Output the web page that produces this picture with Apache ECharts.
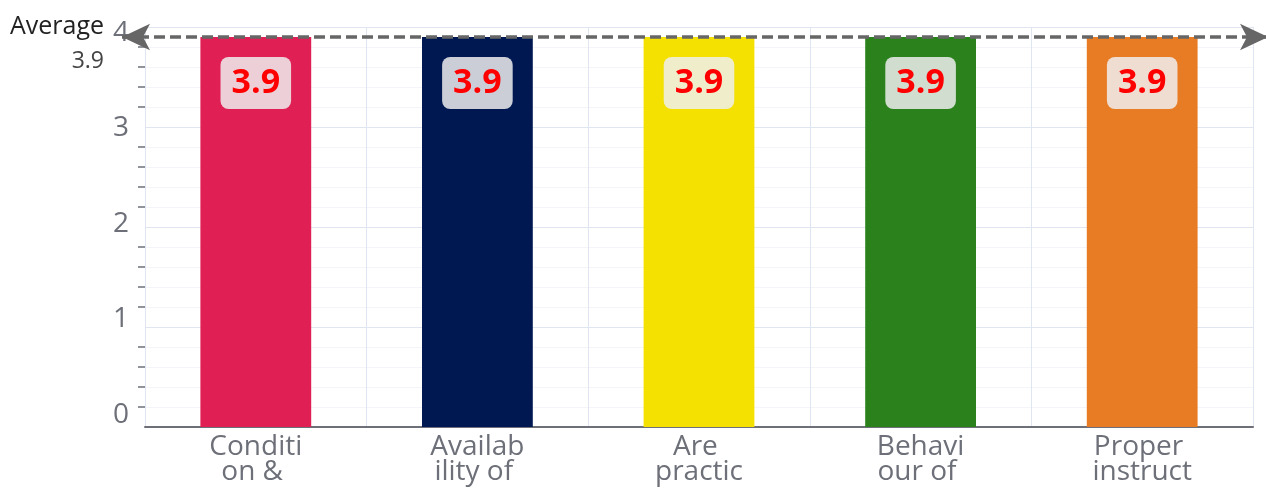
<!DOCTYPE html>
<html>
<head>
<meta charset="utf-8">
<script src="https://cdn.jsdelivr.net/npm/echarts@6/dist/echarts.min.js"></script>
<style>
  html, body { margin: 0; padding: 0; background: #fff; }
  #main { width: 1266px; height: 494px; }
</style>
</head>
<body>
<div id="main"></div>
<script>
// categories (long names wrap under the axis)
var categories = [
  'Condition & cleanliness of laboratory',
  'Availability of equipment',
  'Are practicals conducted regularly',
  'Behaviour of lab staff',
  'Proper instructions given'
];
var scores = [3.9, 3.9, 3.9, 3.9, 3.9];
var barColors = ['#E01F54', '#001852', '#F4E001', '#2B821D', '#E87C25'];
var yMin = 0, yMax = 4, yStep = 1;

// average of all scores, drawn as the dashed arrow line
var avgScore = scores.reduce(function (a, b) { return a + b; }, 0) / scores.length;

var myChart = echarts.init(document.getElementById('main'));

var fontFam = '"Open Sans", "Noto Sans", sans-serif';

myChart.setOption({
  textStyle: { fontFamily: fontFam },
  grid: [
    { left: 145, right: 13, top: 27, bottom: 67, outerBoundsMode: 'none', containLabel: false },
    // only carries the y tick labels
    { left: 145, right: 13, top: 33, bottom: 79, outerBoundsMode: 'none', containLabel: false }
  ],
  xAxis: [
    {
      type: 'category',
      data: categories,
      axisLine: { lineStyle: { color: '#6E7079', width: 2 } },
      axisTick: { alignWithLabel: true, length: 7, lineStyle: { color: '#6E7079', width: 1.5 } },
      splitLine: { show: true, lineStyle: { color: '#E0E6F1' } },
      axisLabel: {
        interval: 0,
        color: '#6E7079',
        fontSize: 28,
        lineHeight: 25,
        width: 100,
        height: 50,
        overflow: 'break',
        lineOverflow: 'truncate',
        margin: 8
      }
    },
    { gridIndex: 1, type: 'category', data: categories, show: false }
  ],
  yAxis: [
    {
      type: 'value',
      min: yMin,
      max: yMax,
      interval: yStep,
      axisLine: { show: false },
      axisTick: { show: false },
      axisLabel: { show: false },
      minorTick: { show: true, splitNumber: 5, length: 7, lineStyle: { color: '#6E7079', width: 1.5 } },
      splitLine: { lineStyle: { color: '#E0E6F1' } },
      minorSplitLine: { show: true, lineStyle: { color: '#F3F5FA' } }
    },
    {
      gridIndex: 1,
      type: 'value',
      min: yMin,
      max: yMax,
      interval: yStep,
      axisLine: { show: false },
      axisTick: { show: false },
      splitLine: { show: false },
      axisLabel: { color: '#6E7079', fontSize: 28, margin: 16 }
    }
  ],
  series: [
    {
      type: 'bar',
      barWidth: '50%',
      data: scores.map(function (v, i) {
        return { value: v, itemStyle: { color: barColors[i] } };
      }),
      label: {
        show: true,
        position: 'insideTop',
        distance: 20,
        color: '#FF0000',
        fontWeight: 'bold',
        fontSize: 34,
        lineHeight: 34,
        padding: [9, 11],
        borderRadius: 8,
        backgroundColor: 'rgba(238,238,238,0.85)'
      },
      markLine: {
        silent: true,
        symbol: ['arrow', 'arrow'],
        symbolSize: [20, 28],
        lineStyle: { color: '#666', type: [11, 5], width: 3.5 },
        label: {
          position: 'start',
          distance: 18,
          padding: [14, 0, 0, 0],
          formatter: function (p) {
            return '{nm|' + p.name + '}\n{vl|' + avgScore.toFixed(1) + '}';
          },
          rich: {
            nm: { fontSize: 25, color: '#222', lineHeight: 34, align: 'right' },
            vl: { fontSize: 23, color: '#444', lineHeight: 34, align: 'right' }
          }
        },
        data: [[
          { name: 'Average', value: avgScore, xAxis: 0, yAxis: avgScore, x: 122 },
          { xAxis: categories.length - 1, yAxis: avgScore, x: 1268 }
        ]]
      }
    }
  ]
});
</script>
</body>
</html>
